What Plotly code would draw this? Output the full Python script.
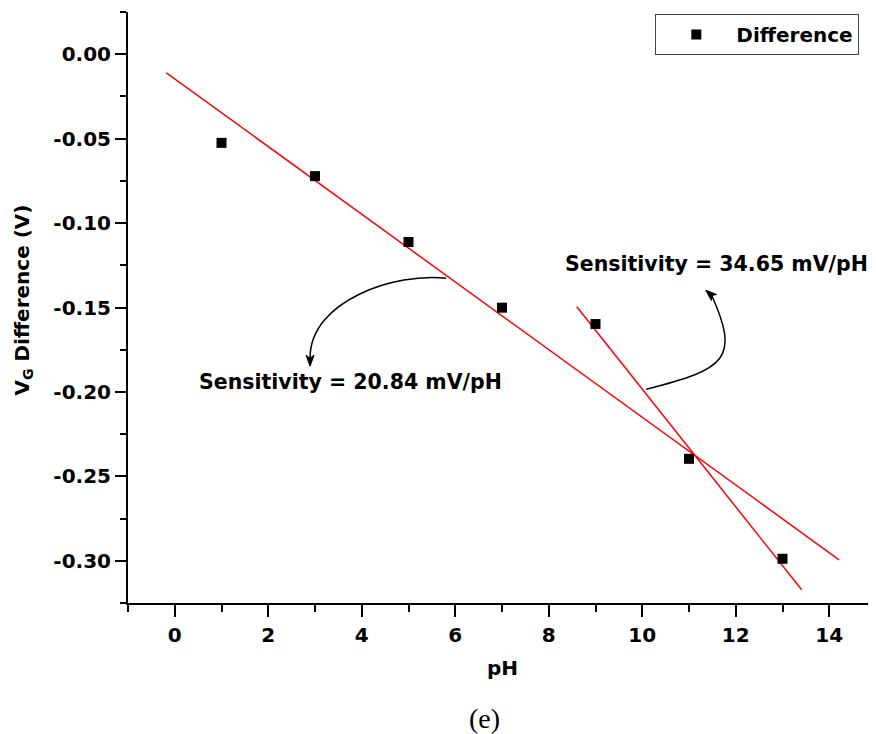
import plotly.graph_objects as go

# ---- data ----
ph = [1, 3, 5, 7, 9, 11, 13]
vg_diff = [-0.0525, -0.0722, -0.1112, -0.1501, -0.1598, -0.2396, -0.2988]

fit1_x = [-0.18, 14.21]
fit1_y = [-0.011, -0.2994]
fit2_x = [8.60, 13.41]
fit2_y = [-0.1495, -0.3172]

y_tickvals = [0.0, -0.05, -0.10, -0.15, -0.20, -0.25, -0.30]
y_ticktext = ["0.00", "-0.05", "-0.10", "-0.15", "-0.20", "-0.25", "-0.30"]

label1 = "Sensitivity = 20.84 mV/pH"
label1_pos = (3.761, -0.1939)
label2 = "Sensitivity = 34.65 mV/pH"
label2_pos = (11.596, -0.1243)

# curved arrows: cubic bezier control points (data coords)
arrow1 = [(5.806, -0.1327), (4.737, -0.1292), (2.891, -0.1456), (2.894, -0.1800)]
arrow1_head = [(2.894, -0.18477), (2.809, -0.17825), (2.894, -0.18003), (2.980, -0.17825)]
arrow2 = [(10.085, -0.1984), (11.795, -0.1866), (12.089, -0.1802), (11.487, -0.1429)]
arrow2_head = [(11.358, -0.13976), (11.591, -0.14231), (11.487, -0.14290), (11.478, -0.14586)]

FONT = "DejaVu Sans"
bold = dict(family=FONT, size=20, color="black", weight="bold")
bold_ann = dict(family=FONT, size=20.5, color="black", weight="bold")

fig = go.Figure()
fig.add_trace(go.Scatter(x=fit1_x, y=fit1_y, mode="lines",
                         line=dict(color="#ff0000", width=1.5), showlegend=False))
fig.add_trace(go.Scatter(x=fit2_x, y=fit2_y, mode="lines",
                         line=dict(color="#ff0000", width=1.5), showlegend=False))
fig.add_trace(go.Scatter(x=ph, y=vg_diff, mode="markers", name="Difference",
                         marker=dict(symbol="square", size=10, color="black")))


def bez(p):
    return "M {},{} C {},{} {},{} {},{}".format(p[0][0], p[0][1], p[1][0], p[1][1],
                                               p[2][0], p[2][1], p[3][0], p[3][1])


def poly(p):
    return "M " + " L ".join("{},{}".format(a, b) for a, b in p) + " Z"


shapes = [
    dict(type="path", path=bez(arrow1), xref="x", yref="y",
         line=dict(color="black", width=1.5)),
    dict(type="path", path=bez(arrow2), xref="x", yref="y",
         line=dict(color="black", width=1.5)),
    dict(type="path", path=poly(arrow1_head), xref="x", yref="y",
         line=dict(color="black", width=1), fillcolor="black"),
    dict(type="path", path=poly(arrow2_head), xref="x", yref="y",
         line=dict(color="black", width=1), fillcolor="black"),
]

annotations = [
    dict(x=label1_pos[0], y=label1_pos[1], xref="x", yref="y", text=label1,
         showarrow=False, font=bold_ann, xanchor="center", yanchor="middle"),
    dict(x=label2_pos[0], y=label2_pos[1], xref="x", yref="y", text=label2,
         showarrow=False, font=bold_ann, xanchor="center", yanchor="middle"),
    # axis titles
    dict(x=0, y=0.5, xref="paper", yref="paper", text="V<sub>G</sub> Difference (V)",
         textangle=-90, showarrow=False, font=bold, xanchor="center", yanchor="middle",
         xshift=-106, yshift=7),
    dict(x=0.5, y=0, xref="paper", yref="paper", text="pH", showarrow=False, font=bold,
         xanchor="center", yanchor="middle", yshift=-65),
    dict(x=0.4772, y=0, xref="paper", yref="paper", text="(e)", showarrow=False,
         font=dict(family="Liberation Serif", size=28, color="black", weight="normal"),
         xanchor="center", yanchor="middle", yshift=-115),
]

# page has an 8px body margin: the figure is sized/positioned to compensate
fig.update_layout(
    width=868, height=726,
    margin=dict(l=120, r=0, t=4, b=131),
    paper_bgcolor="white", plot_bgcolor="white",
    font=bold,
    shapes=shapes, annotations=annotations,
    showlegend=True,
    legend=dict(x=0.9777, y=0.9966, xanchor="right", yanchor="top",
                bordercolor="#444444", borderwidth=1, bgcolor="white",
                font=bold, itemwidth=70),
)

fig.update_xaxes(range=[-1, 15], tick0=0, dtick=2, showline=True, linewidth=2,
                 linecolor="black", ticks="outside", ticklen=12, tickwidth=2,
                 tickcolor="black", showgrid=False, zeroline=False,
                 tickfont=bold, ticklabelstandoff=1,
                 minor=dict(dtick=1, tick0=0, ticks="outside", ticklen=7,
                            tickwidth=2, tickcolor="black", showgrid=False))
fig.update_yaxes(range=[-0.325, 0.025], tickmode="array", tickvals=y_tickvals,
                 ticktext=y_ticktext, showline=True, linewidth=2, linecolor="black",
                 ticks="outside", ticklen=11, tickwidth=2, tickcolor="black",
                 showgrid=False, zeroline=False, tickfont=bold, ticklabelstandoff=0,
                 minor=dict(tickmode="linear", dtick=0.025, tick0=0.025, ticks="outside",
                            ticklen=6, tickwidth=2, tickcolor="black", showgrid=False))

fig.write_html("out.html")
